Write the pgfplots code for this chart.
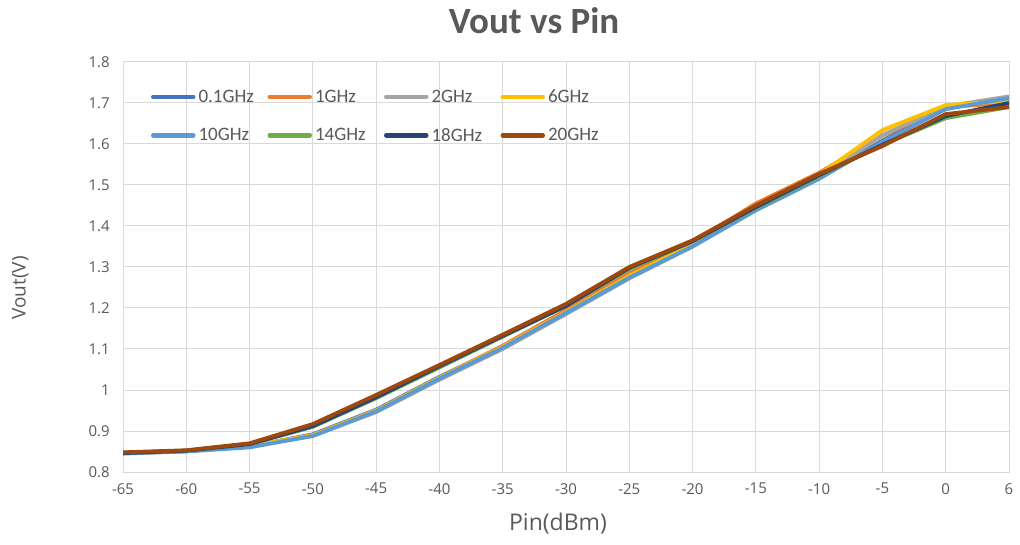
\documentclass[border=0pt]{standalone}
\usepackage{pgfplots}
\pgfplotsset{compat=1.18}
\usepackage{fontspec}
\setmainfont{Carlito}
\newfontfamily\osans{Open Sans}
\definecolor{txt}{HTML}{595959}
\definecolor{grid}{HTML}{D9D9D9}
\definecolor{c1}{HTML}{4472C4}
\definecolor{c2}{HTML}{ED7D31}
\definecolor{c3}{HTML}{A5A5A5}
\definecolor{c4}{HTML}{FFC000}
\definecolor{c5}{HTML}{5B9BD5}
\definecolor{c6}{HTML}{70AD47}
\definecolor{c7}{HTML}{264478}
\definecolor{c8}{HTML}{9E480E}
\begin{document}
\begin{tikzpicture}
\path[use as bounding box] (0pt,0pt) rectangle (1020pt,544pt);
\begin{axis}[
  at={(123pt,72pt)}, anchor=south west,
  width=886pt, height=410pt, scale only axis,
  xmin=0, xmax=14, ymin=0.8, ymax=1.8,
  xtick={0,...,14},
  xticklabels={-65,-60,-55,-50,-45,-40,-35,-30,-25,-20,-15,-10,-5,0,6},
  ytick={0.8,0.9,1.0,1.1,1.2,1.3,1.4,1.5,1.6,1.7,1.8},
  yticklabels={0.8,0.9,1,1.1,1.2,1.3,1.4,1.5,1.6,1.7,1.8},
  major tick length=0pt,
  grid=major,
  major grid style={draw=grid, line width=1pt},
  axis line style={draw=grid, line width=1pt},
  ticklabel style={font=\osans\fontsize{15}{18}\selectfont, text=txt, inner sep=0pt},
  yticklabel style={anchor=east, xshift=-13pt},
  xticklabel style={anchor=north, yshift=-11pt},
  title={Vout vs Pin},
  title style={font=\bfseries\fontsize{37}{44}\selectfont, text=txt, at={(axis description cs:0.464,1.086)}, anchor=center},
  xlabel={Pin(dBm)},
  xlabel style={font=\osans\fontsize{23}{28}\selectfont, text=txt, at={(axis description cs:0.491,-0.126)}, anchor=center},
  ylabel={Vout(V)},
  ylabel style={font=\osans\fontsize{19}{23}\selectfont, text=txt, at={(axis description cs:-0.116,0.449)}, anchor=center, rotate=0},
  legend columns=4,
  legend cell align=left,
  legend image code/.code={\draw[#1, line width=4.5pt, line cap=round] (0pt,0pt) -- (40pt,0pt);},
  legend style={at={(axis description cs:0.028,0.868)}, anchor=west, draw=none, fill=none,
    font=\fontsize{19}{22}\selectfont, text=txt, row sep=24pt,
    nodes={inner sep=0pt}},
  every axis plot/.append style={line width=3.8pt, line join=round, no markers},
]
\addplot[c1] coordinates {(0,0.846)(1,0.851)(2,0.862)(3,0.892)(4,0.952)(5,1.032)(6,1.106)(7,1.190)(8,1.278)(9,1.352)(10,1.440)(11,1.517)(12,1.608)(13,1.688)(14,1.710)};
\addplot[c2] coordinates {(0,0.846)(1,0.851)(2,0.862)(3,0.890)(4,0.950)(5,1.030)(6,1.108)(7,1.195)(8,1.285)(9,1.360)(10,1.455)(11,1.530)(12,1.620)(13,1.690)(14,1.700)};
\addplot[c3] coordinates {(0,0.846)(1,0.851)(2,0.862)(3,0.888)(4,0.946)(5,1.025)(6,1.100)(7,1.185)(8,1.272)(9,1.350)(10,1.440)(11,1.517)(12,1.622)(13,1.692)(14,1.716)};
\addplot[c4] coordinates {(0,0.846)(1,0.851)(2,0.863)(3,0.890)(4,0.950)(5,1.030)(6,1.105)(7,1.190)(8,1.278)(9,1.355)(10,1.448)(11,1.525)(12,1.634)(13,1.695)(14,1.705)};
\addplot[c5] coordinates {(0,0.845)(1,0.850)(2,0.860)(3,0.888)(4,0.948)(5,1.028)(6,1.103)(7,1.188)(8,1.274)(9,1.350)(10,1.438)(11,1.515)(12,1.605)(13,1.685)(14,1.712)};
\addplot[c6] coordinates {(0,0.847)(1,0.852)(2,0.868)(3,0.910)(4,0.980)(5,1.055)(6,1.130)(7,1.205)(8,1.295)(9,1.362)(10,1.444)(11,1.522)(12,1.598)(13,1.663)(14,1.690)};
\addplot[c7] coordinates {(0,0.846)(1,0.852)(2,0.868)(3,0.912)(4,0.982)(5,1.058)(6,1.132)(7,1.205)(8,1.298)(9,1.363)(10,1.446)(11,1.524)(12,1.598)(13,1.668)(14,1.700)};
\addplot[c8] coordinates {(0,0.848)(1,0.853)(2,0.870)(3,0.917)(4,0.988)(5,1.061)(6,1.135)(7,1.210)(8,1.300)(9,1.365)(10,1.450)(11,1.527)(12,1.595)(13,1.673)(14,1.690)};
\legend{\makebox[72pt][l]{\hspace{3pt}0.1GHz},\makebox[72pt][l]{\hspace{3pt}1GHz},\makebox[72pt][l]{\hspace{3pt}2GHz},\makebox[72pt][l]{\hspace{3pt}6GHz},
\makebox[72pt][l]{\hspace{3pt}10GHz},\makebox[72pt][l]{\hspace{3pt}14GHz},\makebox[72pt][l]{\hspace{3pt}18GHz},\makebox[72pt][l]{\hspace{3pt}20GHz}}
\end{axis}
\end{tikzpicture}
\end{document}
